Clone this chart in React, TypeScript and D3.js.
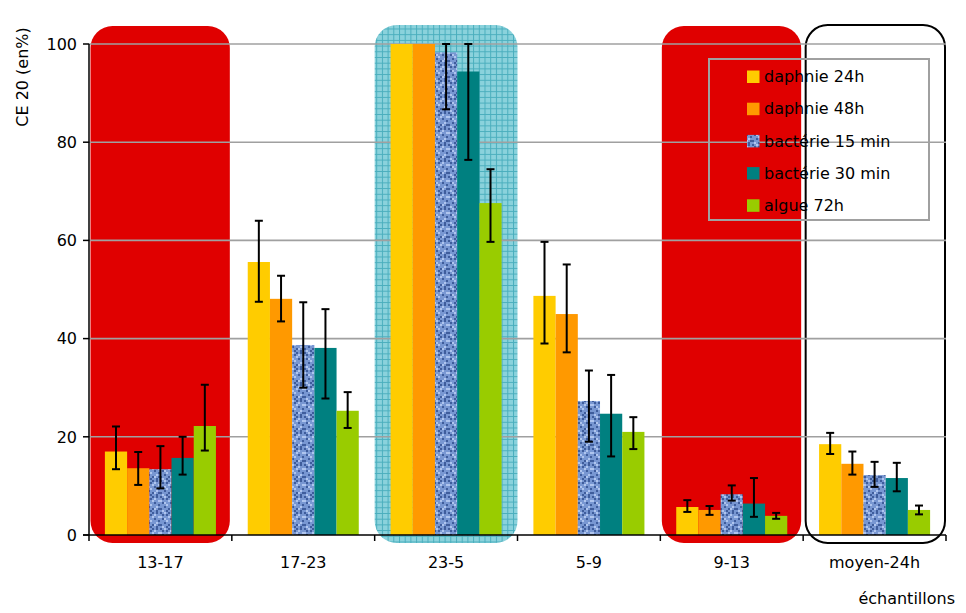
import React from "react";
import * as d3 from "d3";

const categories = ["13-17", "17-23", "23-5", "5-9", "9-13", "moyen-24h"];
const highlight = ["red", "none", "grid", "none", "red", "outline"];
const seriesNames = ["daphnie 24h", "daphnie 48h", "bactérie 15 min", "bactérie 30 min", "algue 72h"];
const seriesColors = ["#FFCC00", "#FF9900", "url(#denim)", "#008080", "#99CC00"];

const daphnie24 = [17.0, 55.6, 100, 48.7, 5.7, 18.5];
const daphnie48 = [13.6, 48.1, 100, 45.0, 5.1, 14.5];
const bact15 = [13.4, 38.7, 98.3, 27.3, 8.3, 12.2];
const bact30 = [15.7, 38.1, 94.4, 24.7, 6.4, 11.6];
const algue72 = [22.2, 25.3, 67.6, 21.0, 3.9, 5.1];

const daphnie24Hi = [22.1, 64.0, 100, 59.7, 7.1, 20.8];
const daphnie24Lo = [13.4, 47.5, 100, 39.0, 4.7, 16.5];
const daphnie48Hi = [16.9, 52.8, 100, 55.1, 5.9, 17.0];
const daphnie48Lo = [10.2, 43.5, 100, 37.2, 4.1, 12.3];
const bact15Hi = [18.1, 47.4, 100, 33.5, 10.1, 14.9];
const bact15Lo = [9.5, 30.0, 86.7, 19.0, 7.0, 9.8];
const bact30Hi = [20.0, 46.0, 100, 32.6, 11.6, 14.7];
const bact30Lo = [12.3, 27.8, 76.4, 16.0, 3.7, 8.9];
const algue72Hi = [30.6, 29.1, 74.5, 24.0, 4.5, 6.0];
const algue72Lo = [17.2, 21.8, 59.7, 17.5, 3.3, 4.2];

const yTicks = [0, 20, 40, 60, 80, 100];

const values = [daphnie24, daphnie48, bact15, bact30, algue72];
const his = [daphnie24Hi, daphnie48Hi, bact15Hi, bact30Hi, algue72Hi];
const los = [daphnie24Lo, daphnie48Lo, bact15Lo, bact30Lo, algue72Lo];

// fixed texture cells for the denim pattern (8x8 grid of 2px cells)
const denimDark = [[0,0],[3,1],[6,0],[1,3],[5,3],[2,5],[7,4],[0,6],[4,6],[6,7],[3,7],[1,1],[4,0],[7,6]];
const denimLight = [[2,0],[5,1],[0,2],[7,2],[3,4],[6,5],[1,7],[4,2],[5,6],[2,3]];

export default function App() {
  const W = 966, H = 613;
  const left = 89, right = 946, top = 44, bottom = 535;
  const font = "'DejaVu Sans', Verdana, sans-serif";

  const x0 = d3.scaleBand<string>().domain(categories).range([left, right]).padding(0);
  const bw = x0.bandwidth();
  const x1 = d3.scaleBand<string>().domain(seriesNames).range([0, bw]).paddingInner(0).paddingOuter(0.716);
  const y = d3.scaleLinear().domain([0, 100]).range([bottom, top]);

  const bgTop = y(100) - 19;
  const bgBottom = y(0) + 8;

  return (
    <svg width={W} height={H} style={{ position: "absolute", left: 0, top: 0, background: "#fff" }} fontFamily={font}>
      <defs>
        <pattern id="gridpat" width="5.7" height="5.7" patternUnits="userSpaceOnUse">
          <rect width="5.7" height="5.7" fill="#8AD2DC" />
          <path d="M0 0.5 H5.7 M0.5 0 V5.7" stroke="#4AAEBD" strokeWidth="1" />
        </pattern>
        <pattern id="denim" width="16" height="16" patternUnits="userSpaceOnUse">
          <rect width="16" height="16" fill="#7897D2" />
          {denimDark.map(([a, b], i) => (
            <rect key={"d" + i} x={a * 2} y={b * 2} width="2" height="2" fill="#3F5D9C" />
          ))}
          {denimLight.map(([a, b], i) => (
            <rect key={"l" + i} x={a * 2} y={b * 2} width="2" height="2" fill="#AFC5EE" />
          ))}
        </pattern>
      </defs>

      {/* category backgrounds */}
      {categories.map((c, i) => {
        const h = highlight[i];
        const bx = x0(c)!;
        if (h === "red")
          return <rect key={c} x={bx + 1.5} y={bgTop + 1} width={bw - 3.5} height={bgBottom - bgTop - 1} rx={22} ry={22} fill="#E00000" />;
        if (h === "grid")
          return <rect key={c} x={bx} y={bgTop} width={bw} height={bgBottom - bgTop} rx={22} ry={22} fill="url(#gridpat)" />;
        if (h === "outline")
          return <rect key={c} x={bx + 2.5} y={bgTop} width={bw - 3.5} height={bgBottom - bgTop} rx={22} ry={22} fill="#fff" stroke="#000" strokeWidth={2} />;
        return null;
      })}

      {/* gridlines */}
      {yTicks.filter((t) => t > 0).map((t) => (
        <line key={t} x1={left} x2={right} y1={y(t)} y2={y(t)} stroke="#A0A0A0" strokeWidth={1.6} />
      ))}

      {/* bars */}
      {categories.map((c, ci) =>
        seriesNames.map((s, si) => (
          <rect
            key={c + s}
            x={x0(c)! + x1(s)!}
            y={y(values[si][ci])}
            width={x1.bandwidth()}
            height={y(0) - y(values[si][ci])}
            fill={seriesColors[si]}
          />
        ))
      )}

      {/* error bars */}
      {categories.map((c, ci) =>
        seriesNames.map((s, si) => {
          const hi = his[si][ci], lo = los[si][ci];
          if (hi === lo) return null;
          const cx = x0(c)! + x1(s)! + x1.bandwidth() / 2;
          return (
            <g key={"e" + c + s} stroke="#000" strokeWidth={2}>
              <line x1={cx} x2={cx} y1={y(hi)} y2={y(lo)} />
              <line x1={cx - 4} x2={cx + 4} y1={y(hi)} y2={y(hi)} />
              <line x1={cx - 4} x2={cx + 4} y1={y(lo)} y2={y(lo)} />
            </g>
          );
        })
      )}

      {/* axes */}
      <line x1={left} x2={left} y1={top} y2={bottom} stroke="#000" strokeWidth={1.5} />
      <line x1={left - 6} x2={right} y1={bottom} y2={bottom} stroke="#000" strokeWidth={1.5} />
      {yTicks.map((t) => (
        <g key={"yt" + t}>
          <line x1={left - 6} x2={left} y1={y(t)} y2={y(t)} stroke="#000" strokeWidth={1.5} />
          <text x={left - 12} y={y(t)} dy="0.36em" textAnchor="end" fontSize={16} fill="#000">
            {t}
          </text>
        </g>
      ))}
      {[...categories.map((c) => x0(c)!), right].map((xx, i) => (
        <line key={"xt" + i} x1={xx} x2={xx} y1={bottom} y2={bottom + 6} stroke="#000" strokeWidth={1.5} />
      ))}
      {categories.map((c) => (
        <text key={"xl" + c} x={x0(c)! + bw / 2} y={568} textAnchor="middle" fontSize={16} fill="#000">
          {c}
        </text>
      ))}

      <text transform={`translate(28,77) rotate(-90)`} textAnchor="middle" fontSize={16} fill="#000">
        CE 20 (en%)
      </text>
      <text x={955} y={604} textAnchor="end" fontSize={16} fill="#000">
        échantillons
      </text>

      {/* legend */}
      <rect x={709} y={59} width={220} height={161} fill="none" stroke="#A0A0A0" strokeWidth={2} />
      {seriesNames.map((s, i) => {
        const cy = 76.5 + i * 32.2;
        return (
          <g key={"lg" + s}>
            <rect x={747} y={cy - 6} width={12.5} height={12.5} fill={seriesColors[i]} />
            <text x={764} y={cy} dy="0.36em" fontSize={16} fill="#000">
              {s}
            </text>
          </g>
        );
      })}
    </svg>
  );
}
